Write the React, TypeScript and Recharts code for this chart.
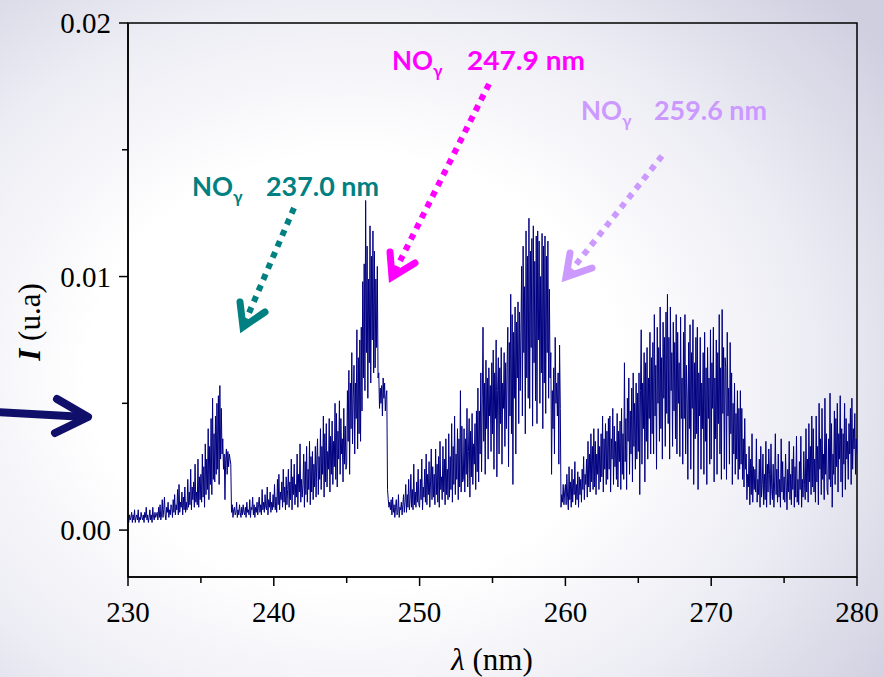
import { LineChart, Line, XAxis, YAxis, ReferenceArea } from 'recharts';

// spectre d'émission, pas de 0.05 nm
const LAMBDA_START = 230;
const LAMBDA_STEP = 0.05;

// intensité en unités de 1e-4 (u.a), une ligne par nm (230 -> 280)
const intensity = [
  5, 3, 6, 4, 5, 7, 3, 6, 4, 8, 3, 5, 6, 4, 8, 3, 5, 4, 7, 5,
  4, 6, 3, 7, 5, 9, 4, 6, 3, 5, 8, 4, 6, 3, 9, 5, 4, 7, 5, 6,
  7, 4, 9, 5, 10, 4, 6, 12, 5, 8, 13, 6, 4, 9, 7, 11, 5, 8, 6, 10,
  9, 5, 12, 7, 14, 6, 10, 8, 16, 6, 18, 7, 11, 9, 15, 6, 13, 8, 17, 7,
  11, 8, 20, 9, 15, 10, 24, 8, 17, 12, 19, 9, 26, 11, 15, 10, 28, 9, 21, 12,
  22, 11, 30, 13, 25, 9, 34, 14, 28, 16, 40, 12, 33, 18, 44, 14, 52, 20, 38, 19,
  45, 22, 50, 24, 53, 18, 57, 28, 48, 30, 36, 24, 30, 12, 28, 32, 22, 31, 25, 30,
  28, 26, 7, 10, 5, 8, 9, 6, 7, 11, 5, 8, 6, 10, 7, 5, 9, 6, 10, 7,
  6, 9, 5, 11, 7, 8, 6, 12, 5, 9, 8, 13, 6, 10, 5, 9, 7, 11, 6, 10,
  13, 7, 10, 6, 16, 8, 11, 7, 14, 9, 8, 17, 6, 12, 9, 15, 7, 11, 8, 14,
  9, 18, 8, 13, 7, 20, 10, 22, 8, 15, 12, 19, 9, 24, 11, 17, 8, 21, 10, 16,
  24, 9, 19, 12, 28, 8, 21, 14, 26, 10, 18, 13, 30, 9, 22, 15, 34, 11, 20, 13,
  18, 30, 9, 27, 14, 33, 11, 24, 16, 35, 10, 29, 15, 31, 12, 26, 17, 33, 13, 28,
  36, 14, 29, 20, 40, 16, 33, 22, 45, 13, 38, 19, 42, 17, 31, 24, 44, 15, 37, 22,
  43, 18, 35, 25, 50, 20, 46, 17, 39, 28, 51, 22, 44, 30, 36, 19, 48, 26, 41, 24,
  26, 55, 35, 63, 22, 58, 40, 70, 34, 52, 65, 30, 58, 44, 79, 32, 68, 38, 75, 35,
  80, 47, 98, 60, 105, 55, 130, 70, 112, 52, 99, 66, 120, 58, 108, 75, 118, 62, 110, 64,
  99, 72, 104, 60, 62, 48, 56, 50, 57, 45, 60, 52, 58, 47, 53, 55, 16, 12, 9, 11,
  8, 12, 6, 13, 7, 10, 5, 9, 12, 6, 7, 14, 5, 9, 8, 11, 6, 10, 14, 7,
  11, 18, 7, 14, 9, 20, 8, 12, 22, 9, 16, 8, 26, 10, 15, 9, 19, 11, 24, 10,
  9, 20, 12, 28, 8, 17, 13, 24, 11, 30, 10, 22, 14, 27, 9, 19, 32, 12, 25, 13,
  22, 10, 32, 14, 26, 11, 29, 9, 35, 16, 21, 12, 33, 15, 28, 10, 36, 14, 24, 12,
  38, 13, 29, 16, 42, 11, 33, 18, 45, 14, 30, 20, 40, 12, 36, 17, 55, 15, 41, 19,
  20, 40, 15, 36, 22, 48, 17, 31, 44, 13, 39, 21, 46, 18, 34, 26, 42, 16, 47, 23,
  56, 19, 47, 30, 62, 23, 52, 80, 35, 58, 22, 67, 40, 60, 28, 64, 45, 57, 31, 66,
  38, 71, 24, 62, 44, 75, 21, 55, 68, 30, 64, 42, 72, 26, 58, 48, 70, 33, 66, 40,
  64, 80, 25, 74, 45, 93, 38, 85, 18, 78, 52, 88, 30, 82, 60, 90, 42, 86, 55, 79,
  104, 45, 112, 70, 96, 38, 118, 60, 108, 52, 123, 48, 110, 72, 115, 41, 120, 66, 106, 51,
  116, 42, 118, 75, 114, 50, 100, 62, 117, 40, 112, 58, 116, 46, 108, 70, 114, 52, 95, 60,
  70, 22, 55, 40, 64, 30, 76, 50, 58, 45, 62, 26, 73, 48, 9, 14, 11, 18, 10, 15,
  18, 10, 22, 13, 8, 25, 12, 19, 9, 24, 11, 20, 14, 27, 10, 18, 12, 23, 9, 21,
  14, 20, 11, 24, 16, 29, 12, 22, 18, 28, 13, 35, 17, 30, 15, 38, 19, 33, 16, 40,
  17, 35, 14, 30, 22, 40, 16, 33, 19, 38, 21, 45, 15, 36, 24, 42, 18, 39, 20, 44,
  24, 45, 15, 36, 28, 48, 18, 41, 25, 35, 20, 46, 17, 39, 27, 43, 16, 48, 22, 38,
  20, 66, 27, 44, 16, 52, 35, 60, 22, 47, 30, 56, 19, 62, 33, 50, 24, 58, 28, 54,
  31, 62, 14, 55, 79, 26, 58, 40, 70, 19, 66, 35, 72, 28, 60, 44, 78, 30, 68, 38,
  74, 30, 85, 45, 65, 24, 80, 50, 72, 35, 88, 40, 68, 28, 82, 52, 76, 33, 86, 46,
  93, 42, 76, 28, 88, 55, 70, 33, 82, 47, 74, 36, 85, 30, 78, 50, 66, 29, 84, 44,
  60, 26, 78, 44, 85, 30, 65, 52, 20, 74, 40, 81, 24, 70, 48, 83, 18, 66, 36, 76,
  38, 80, 16, 62, 45, 76, 24, 58, 40, 70, 22, 78, 35, 64, 18, 72, 44, 60, 26, 79,
  28, 66, 48, 80, 19, 60, 36, 75, 22, 70, 42, 85, 30, 64, 20, 87, 46, 72, 24, 68,
  64, 20, 78, 45, 56, 26, 74, 38, 62, 18, 50, 30, 58, 22, 46, 28, 55, 20, 48, 24,
  55, 26, 48, 20, 36, 17, 44, 24, 30, 12, 22, 17, 33, 10, 28, 14, 38, 11, 25, 16,
  24, 15, 36, 11, 20, 14, 28, 9, 33, 13, 18, 30, 10, 22, 12, 35, 9, 26, 15, 32,
  22, 10, 34, 16, 12, 26, 9, 19, 38, 14, 24, 11, 30, 13, 20, 9, 36, 15, 27, 12,
  21, 11, 30, 17, 8, 24, 15, 35, 12, 22, 10, 28, 16, 33, 9, 25, 13, 37, 11, 20,
  10, 27, 16, 37, 9, 20, 13, 31, 18, 12, 40, 15, 28, 11, 42, 19, 33, 14, 45, 17,
  40, 15, 28, 11, 45, 19, 33, 10, 50, 24, 36, 14, 48, 20, 30, 12, 52, 22, 38, 16,
  14, 36, 20, 54, 17, 42, 9, 30, 22, 47, 18, 44, 25, 50, 15, 38, 28, 53, 19, 40,
  13, 38, 26, 50, 16, 44, 28, 35, 20, 42, 30, 48, 18, 52, 24, 40, 32, 46, 22, 36,
  30,
];

const xTicks = [230, 235, 240, 245, 250, 255, 260, 265, 270, 275, 280];
const xTickLabels = ['230', '', '240', '', '250', '', '260', '', '270', '', '280'];
const yTicks = [0, 0.005, 0.01, 0.015, 0.02];
const yTickLabels = ['0.00', '', '0.01', '', '0.02'];

const data = intensity.map((v, i) => ({
  lambda: Math.round((LAMBDA_START + i * LAMBDA_STEP) * 100) / 100,
  I: v / 10000,
}));

const SERIF = '"Liberation Serif", "Times New Roman", serif';
const SANS = 'Lato, "Open Sans", sans-serif';

const XTick = ({ x, y, index }: any) => {
  const label = xTickLabels[index];
  return (
    <g>
      <line x1={x} y1={y} x2={x} y2={y + (label ? 9 : 6)} stroke="#000" strokeWidth={1.5} />
      {label && (
        <text x={x} y={y + 45} textAnchor="middle" fontFamily={SERIF} fontSize={29} fill="#000">
          {label}
        </text>
      )}
    </g>
  );
};

const YTick = ({ x, y, index }: any) => {
  const label = yTickLabels[index];
  return (
    <g>
      <line x1={x} y1={y} x2={x - (label ? 9 : 6)} y2={y} stroke="#000" strokeWidth={1.5} />
      {label && (
        <text x={x - 17} y={y + 10} textAnchor="end" fontFamily={SERIF} fontSize={29} fill="#000">
          {label}
        </text>
      )}
    </g>
  );
};

const DotArrow = ({ x1, y1, x2, y2, a1, a2, color }: any) => (
  <g>
    <line x1={x1} y1={y1} x2={x2} y2={y2} stroke={color} strokeWidth={6} strokeDasharray="6 6" />
    <polyline
      points={`${a1[0]},${a1[1]} ${x2},${y2} ${a2[0]},${a2[1]}`}
      fill="none"
      stroke={color}
      strokeWidth={7}
      strokeLinecap="round"
      strokeLinejoin="miter"
    />
  </g>
);

const Label = ({ x, y, color, value, valueX, valueW }: any) => (
  <g fill={color} fontFamily={SANS} fontWeight={700}>
    <text x={x} y={y} fontSize={26}>
      NO
      <tspan fontSize={17} dy={7}>γ</tspan>
    </text>
    <text x={valueX} y={y} fontSize={26} textLength={valueW} lengthAdjust="spacingAndGlyphs">
      {value}
    </text>
  </g>
);

export default function App() {
  return (
    <div
      style={{
        position: 'absolute',
        left: 0,
        top: 0,
        width: 884,
        height: 677,
        overflow: 'hidden',
        background:
          'radial-gradient(ellipse 75% 80% at 40% 55%, #ffffff 40%, #ececf4 70%, #cfcfe0 100%)',
      }}
    >
      <LineChart width={884} height={677} data={data} margin={{ top: 23, right: 27, bottom: 60, left: 0 }}>
        <XAxis
          dataKey="lambda"
          type="number"
          domain={[230, 280]}
          ticks={xTicks}
          height={40}
          tickSize={0}
          tickMargin={0}
          tick={<XTick />}
          axisLine={{ stroke: '#000', strokeWidth: 1.5 }}
          tickLine={false}
          allowDataOverflow
        />
        <YAxis
          type="number"
          domain={[-0.00185, 0.02]}
          ticks={yTicks}
          width={128}
          tickSize={0}
          tickMargin={0}
          tick={<YTick />}
          axisLine={{ stroke: '#000', strokeWidth: 1.5 }}
          tickLine={false}
          allowDataOverflow
        />
        <ReferenceArea
          x1={230}
          x2={280}
          y1={-0.00185}
          y2={0.02}
          fill="none"
          stroke="#000"
          strokeWidth={1.5}
          ifOverflow="visible"
        />
        <Line
          type="linear"
          dataKey="I"
          stroke="#000080"
          strokeWidth={1}
          dot={false}
          isAnimationActive={false}
        />
      </LineChart>
      <svg
        width={884}
        height={677}
        style={{ position: 'absolute', left: 0, top: 0, pointerEvents: 'none' }}
      >
        <text x={492} y={670} textAnchor="middle" fontFamily={SERIF} fontSize={31} fill="#000">
          <tspan fontStyle="italic">λ</tspan> (nm)
        </text>
        <text
          x={40}
          y={322}
          textAnchor="middle"
          fontFamily={SERIF}
          fontSize={31}
          fill="#000"
          transform="rotate(-90 40 322)"
        >
          <tspan fontStyle="italic" fontWeight="bold">I</tspan> (u.a)
        </text>

        <Label x={192} y={196} color="#008080" value="237.0 nm" valueX={266} valueW={113} />
        <Label x={392} y={70} color="#ff00ff" value="247.9  nm" valueX={467} valueW={118} />
        <Label x={581} y={120} color="#cc99ff" value="259.6 nm" valueX={654} valueW={113} />

        <DotArrow x1={294} y1={208} x2={243} y2={327} a1={[240, 302]} a2={[265, 312]} color="#008080" />
        <DotArrow x1={489} y1={84} x2={392} y2={277} a1={[390, 252]} a2={[415, 263]} color="#ff00ff" />
        <DotArrow x1={662} y1={156} x2={566} y2={277} a1={[570, 253]} a2={[592, 268]} color="#cc99ff" />

        <g stroke="#10106a" strokeWidth={8} strokeLinecap="round" fill="none">
          <line x1={-5} y1={412} x2={86} y2={417} />
          <polyline points="57,399 88,417 55,433" strokeLinejoin="round" />
        </g>
      </svg>
    </div>
  );
}
